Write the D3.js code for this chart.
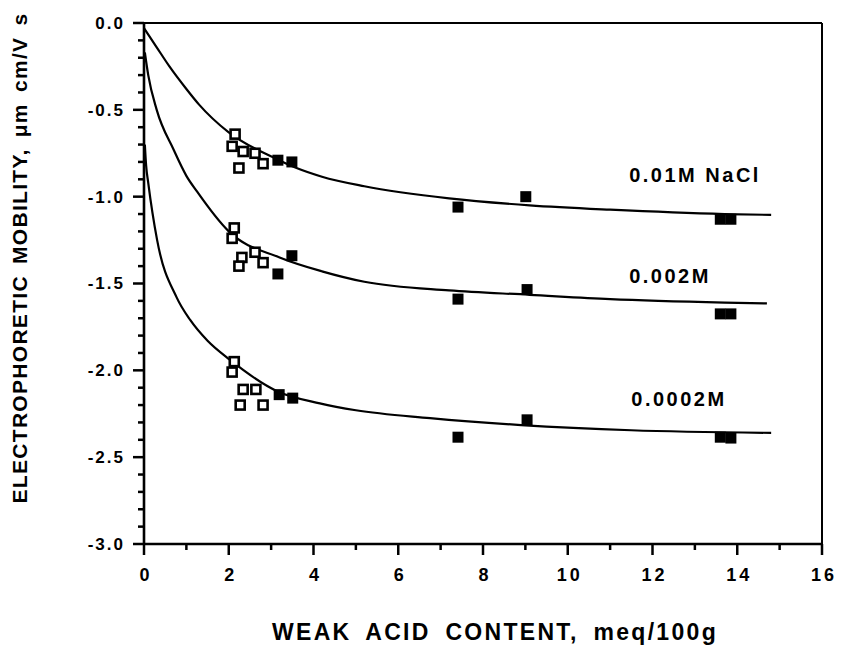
<!DOCTYPE html>
<html>
<head>
<meta charset="utf-8">
<script src="https://cdn.jsdelivr.net/npm/d3@7/dist/d3.min.js"></script>
<style>
  html, body { margin: 0; padding: 0; background: #fff; }
  svg { display: block; }
  text { font-family: "Liberation Sans", Arial, Helvetica, sans-serif; font-weight: bold; fill: #000; }
</style>
</head>
<body>
<svg id="chart" width="841" height="649"></svg>
<script>
// Ionic strength series
const seriesNames = ["0.01M NaCl", "0.002M", "0.0002M"];

// Open squares (low weak-acid samples), [content, mobility]
const open001 = [[2.15, -0.64], [2.08, -0.71], [2.34, -0.74], [2.62, -0.75], [2.24, -0.835], [2.81, -0.81]];
const open0002 = [[2.13, -1.18], [2.08, -1.24], [2.31, -1.35], [2.62, -1.32], [2.24, -1.40], [2.81, -1.38]];
const open00002 = [[2.13, -1.95], [2.08, -2.01], [2.34, -2.11], [2.64, -2.11], [2.27, -2.20], [2.81, -2.20]];

// Filled squares
const filled001 = [[3.16, -0.79], [3.49, -0.80], [7.41, -1.06], [9.01, -1.00], [13.6, -1.13], [13.85, -1.13]];
const filled0002 = [[3.16, -1.445], [3.49, -1.34], [7.41, -1.59], [9.04, -1.535], [13.6, -1.675], [13.85, -1.675]];
const filled00002 = [[3.19, -2.14], [3.51, -2.16], [7.41, -2.385], [9.04, -2.285], [13.6, -2.385], [13.85, -2.39]];

// Fitted curves
const curve001 = [[0, -0.03], [0.3, -0.14], [0.6, -0.25], [1.0, -0.38], [1.3, -0.47], [2.0, -0.63], [3.1, -0.78], [3.6, -0.835], [4.2, -0.885], [5.2, -0.94], [7.2, -1.01], [9.1, -1.05], [11.0, -1.075], [13.7, -1.10], [14.8, -1.105]];
const curve0002 = [[0.02, -0.17], [0.1, -0.30], [0.3, -0.50], [0.7, -0.73], [1.0, -0.88], [1.25, -0.97], [2.0, -1.20], [3.2, -1.35], [4.2, -1.43], [5.2, -1.49], [7.2, -1.54], [9.1, -1.565], [11.0, -1.59], [13.7, -1.61], [14.7, -1.615]];
const curve00002 = [[0.02, -0.70], [0.05, -0.82], [0.1, -0.92], [0.31, -1.25], [0.77, -1.58], [1.09, -1.71], [1.5, -1.83], [2.03, -1.94], [3.14, -2.12], [4.15, -2.19], [5.0, -2.23], [6.75, -2.275], [8.9, -2.315], [11.5, -2.345], [14.8, -2.36]];

// Axis ticks
const xMajorTicks = [0, 2, 4, 6, 8, 10, 12, 14, 16];
const xMinorTicks = [1, 3, 5, 7, 9, 11, 13, 15];
const yMajorTicks = [0, -0.5, -1.0, -1.5, -2.0, -2.5, -3.0];
const yTickLabels = ["0.0", "-0.5", "-1.0", "-1.5", "-2.0", "-2.5", "-3.0"];
const yMinorTicks = d3.range(1, 30).filter(i => i % 5 !== 0).map(i => -i / 10);

const series = [
  { name: seriesNames[0], open: open001, filled: filled001, curve: curve001 },
  { name: seriesNames[1], open: open0002, filled: filled0002, curve: curve0002 },
  { name: seriesNames[2], open: open00002, filled: filled00002, curve: curve00002 }
];

const svg = d3.select("#chart");
const plotL = 144, plotR = 822, plotT = 23, plotB = 544;

const x = d3.scaleLinear().domain([0, 16]).range([plotL, plotR]);
const y = d3.scaleLinear().domain([0, -3]).range([plotT, plotB]);

// frame: top and right edges
svg.append("line").attr("x1", plotL).attr("x2", plotR).attr("y1", plotT).attr("y2", plotT)
  .attr("stroke", "#000").attr("stroke-width", 2.2);
svg.append("line").attr("x1", plotR).attr("x2", plotR).attr("y1", plotT).attr("y2", plotB)
  .attr("stroke", "#000").attr("stroke-width", 2);

// axes: labels from d3 axis generators, tick marks drawn as explicit lines
const xAxis = svg.append("g").attr("transform", `translate(0,${plotB})`)
  .call(d3.axisBottom(x).tickValues(xMajorTicks).tickSize(0).tickPadding(24).tickFormat(d3.format("d")));
const yAxis = svg.append("g").attr("transform", `translate(${plotL},0)`)
  .call(d3.axisLeft(y).tickValues(yMajorTicks).tickSize(0).tickPadding(19)
    .tickFormat((d, i) => yTickLabels[i]));
xAxis.select(".domain").remove();
yAxis.select(".domain").remove();
xAxis.selectAll(".tick text").attr("font-size", 18).attr("letter-spacing", 3).attr("dx", 1.5);
yAxis.selectAll(".tick text").attr("font-size", 17).attr("letter-spacing", 2);

const tickG = svg.append("g").attr("stroke", "#000").attr("stroke-width", 2.5);
tickG.selectAll(".xmaj").data(xMajorTicks).join("line").attr("class", "xmaj")
  .attr("x1", d => x(d)).attr("x2", d => x(d)).attr("y1", plotB).attr("y2", plotB + 11);
tickG.selectAll(".xmin").data(xMinorTicks).join("line").attr("class", "xmin")
  .attr("x1", d => x(d)).attr("x2", d => x(d)).attr("y1", plotB).attr("y2", plotB + 6);
tickG.selectAll(".ymaj").data(yMajorTicks).join("line").attr("class", "ymaj")
  .attr("x1", plotL - 11).attr("x2", plotL).attr("y1", d => y(d)).attr("y2", d => y(d));
tickG.selectAll(".ymin").data(yMinorTicks).join("line").attr("class", "ymin")
  .attr("x1", plotL - 6).attr("x2", plotL).attr("y1", d => y(d)).attr("y2", d => y(d));

// axis lines
svg.append("line").attr("x1", plotL).attr("x2", plotR + 1).attr("y1", plotB).attr("y2", plotB)
  .attr("stroke", "#000").attr("stroke-width", 2.6);
svg.append("line").attr("x1", plotL).attr("x2", plotL).attr("y1", plotT - 1).attr("y2", plotB + 1)
  .attr("stroke", "#000").attr("stroke-width", 2.6);

// curves
const line = d3.line().x(d => x(d[0])).y(d => y(d[1])).curve(d3.curveMonotoneX);
series.forEach(s => {
  svg.append("path").datum(s.curve).attr("d", line)
    .attr("fill", "none").attr("stroke", "#000").attr("stroke-width", 2.2);
});

// markers
const openSize = 9, filledSize = 11;
series.forEach(s => {
  svg.append("g").selectAll("rect").data(s.open).join("rect")
    .attr("x", d => x(d[0]) - openSize / 2).attr("y", d => y(d[1]) - openSize / 2)
    .attr("width", openSize).attr("height", openSize)
    .attr("fill", "#fff").attr("stroke", "#000").attr("stroke-width", 2.6);
  svg.append("g").selectAll("rect").data(s.filled).join("rect")
    .attr("x", d => x(d[0]) - filledSize / 2).attr("y", d => y(d[1]) - filledSize / 2)
    .attr("width", filledSize).attr("height", filledSize)
    .attr("fill", "#000");
});

// series labels
const labelAnchors = [[11.45, -0.916], [11.45, -1.497], [11.5, -2.205]];
series.forEach((s, i) => {
  svg.append("text").attr("x", x(labelAnchors[i][0])).attr("y", y(labelAnchors[i][1]))
    .attr("font-size", 20).attr("letter-spacing", 2.5).text(s.name);
});

// axis titles
svg.append("text").attr("x", 495).attr("y", 640).attr("text-anchor", "middle")
  .attr("font-size", 23).attr("letter-spacing", 2.3).attr("word-spacing", 6)
  .text("WEAK ACID CONTENT, meq/100g");
svg.append("text").attr("transform", "translate(27,258) rotate(-90)").attr("text-anchor", "middle")
  .attr("font-size", 21).attr("letter-spacing", 1.3).attr("word-spacing", 4)
  .text("ELECTROPHORETIC MOBILITY, μm cm/V s");
</script>
</body>
</html>
